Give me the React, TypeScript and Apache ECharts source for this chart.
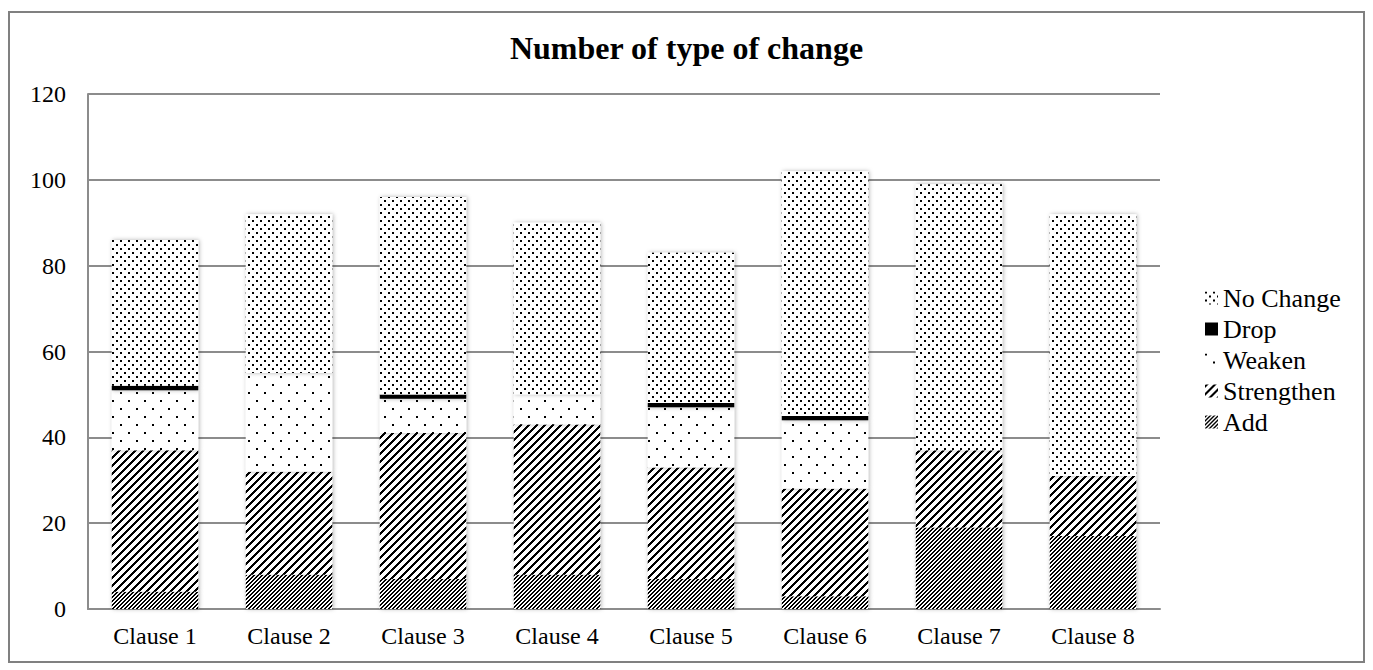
import React, { useEffect, useRef } from "react";
import * as echarts from "echarts";

const categories = ["Clause 1", "Clause 2", "Clause 3", "Clause 4", "Clause 5", "Clause 6", "Clause 7", "Clause 8"];
const addValues = [4, 8, 7, 8, 7, 3, 19, 17];
const strengthenValues = [33, 24, 34, 35, 26, 25, 18, 14];
const weakenValues = [14, 23, 8, 7, 14, 16, 0, 0];
const dropValues = [1, 0, 1, 0, 1, 1, 0, 0];
const noChangeValues = [34, 37, 46, 40, 35, 57, 62, 61];
const legendOrder = ["No Change", "Drop", "Weaken", "Strengthen", "Add"];
const chartTitle = "Number of type of change";

const FONT = "'Liberation Serif', 'Times New Roman', serif";

function makeTile(size: number, isBlack: (x: number, y: number) => boolean) {
  const c = document.createElement("canvas");
  c.width = size;
  c.height = size;
  const ctx = c.getContext("2d")!;
  ctx.fillStyle = "#ffffff";
  ctx.fillRect(0, 0, size, size);
  ctx.fillStyle = "#000000";
  for (let y = 0; y < size; y++) {
    for (let x = 0; x < size; x++) {
      if (isBlack(x, y)) ctx.fillRect(x, y, 1, 1);
    }
  }
  return { image: c as any, repeat: "repeat", imageWidth: size, imageHeight: size } as any;
}

export default function App() {
  const ref = useRef<HTMLDivElement>(null);
  useEffect(() => {
    if (!ref.current) return;
    const chart = echarts.init(ref.current, null, { renderer: "svg" });

    const denseDots = makeTile(8, (x, y) => (x < 2 && y < 2) || (x >= 4 && x < 6 && y >= 4 && y < 6));
    const sparseDots = makeTile(16, (x, y) => (x < 2 && y < 2) || (x >= 8 && x < 10 && y >= 8 && y < 10));
    const wideDiag = makeTile(8, (x, y) => (x + y) % 8 < 3);
    const narrowDiag = makeTile(8, (x, y) => (x + y) % 4 < 2);

    const shadow = {
      shadowBlur: 4,
      shadowColor: "rgba(0,0,0,0.3)",
      shadowOffsetX: 1,
      shadowOffsetY: 0,
    };

    const mk = (name: string, data: number[], color: any) => ({
      name,
      type: "bar",
      stack: "total",
      barWidth: "64.5%",
      data,
      itemStyle: { color, ...shadow },
      emphasis: { disabled: true },
    });

    chart.setOption({
      animation: false,
      backgroundColor: "#ffffff",
      textStyle: { fontFamily: FONT, color: "#000" },
      title: {
        text: chartTitle,
        left: "center",
        top: 27,
        textStyle: { fontFamily: FONT, fontWeight: "bold", fontSize: 32, color: "#000" },
      },
      graphic: [
        {
          type: "rect",
          shape: { x: 9, y: 12, width: 1355, height: 650 },
          style: { fill: "none", stroke: "#808080", lineWidth: 2 },
          silent: true,
        },
      ],
      legend: {
        orient: "vertical",
        left: 1200,
        top: 280,
        itemWidth: 13,
        itemHeight: 13,
        itemGap: 5,
        data: legendOrder,
        icon: "rect",
        textStyle: { fontFamily: FONT, fontSize: 26, color: "#000", lineHeight: 26 },
      },
      grid: { left: 88, right: 213, top: 94, bottom: 61, containLabel: false },
      xAxis: {
        type: "category",
        data: categories,
        axisLine: { show: true, lineStyle: { color: "#8c8c8c", width: 2 } },
        axisTick: { show: false },
        axisLabel: { fontFamily: FONT, fontSize: 24, color: "#000", margin: 15 },
      },
      yAxis: {
        type: "value",
        min: 0,
        max: 120,
        interval: 20,
        axisLine: { show: true, lineStyle: { color: "#8c8c8c", width: 2 } },
        axisTick: { show: false },
        splitLine: { lineStyle: { color: "#8c8c8c", width: 2 } },
        axisLabel: { fontFamily: FONT, fontSize: 24, color: "#000", margin: 22 },
      },
      series: [
        mk("Add", addValues, narrowDiag),
        mk("Strengthen", strengthenValues, wideDiag),
        mk("Weaken", weakenValues, sparseDots),
        mk("Drop", dropValues, "#000000"),
        mk("No Change", noChangeValues, denseDots),
      ],
    });
    return () => chart.dispose();
  }, []);
  return <div ref={ref} style={{ position: "absolute", left: 0, top: 0, width: 1373, height: 670 }} />;
}
